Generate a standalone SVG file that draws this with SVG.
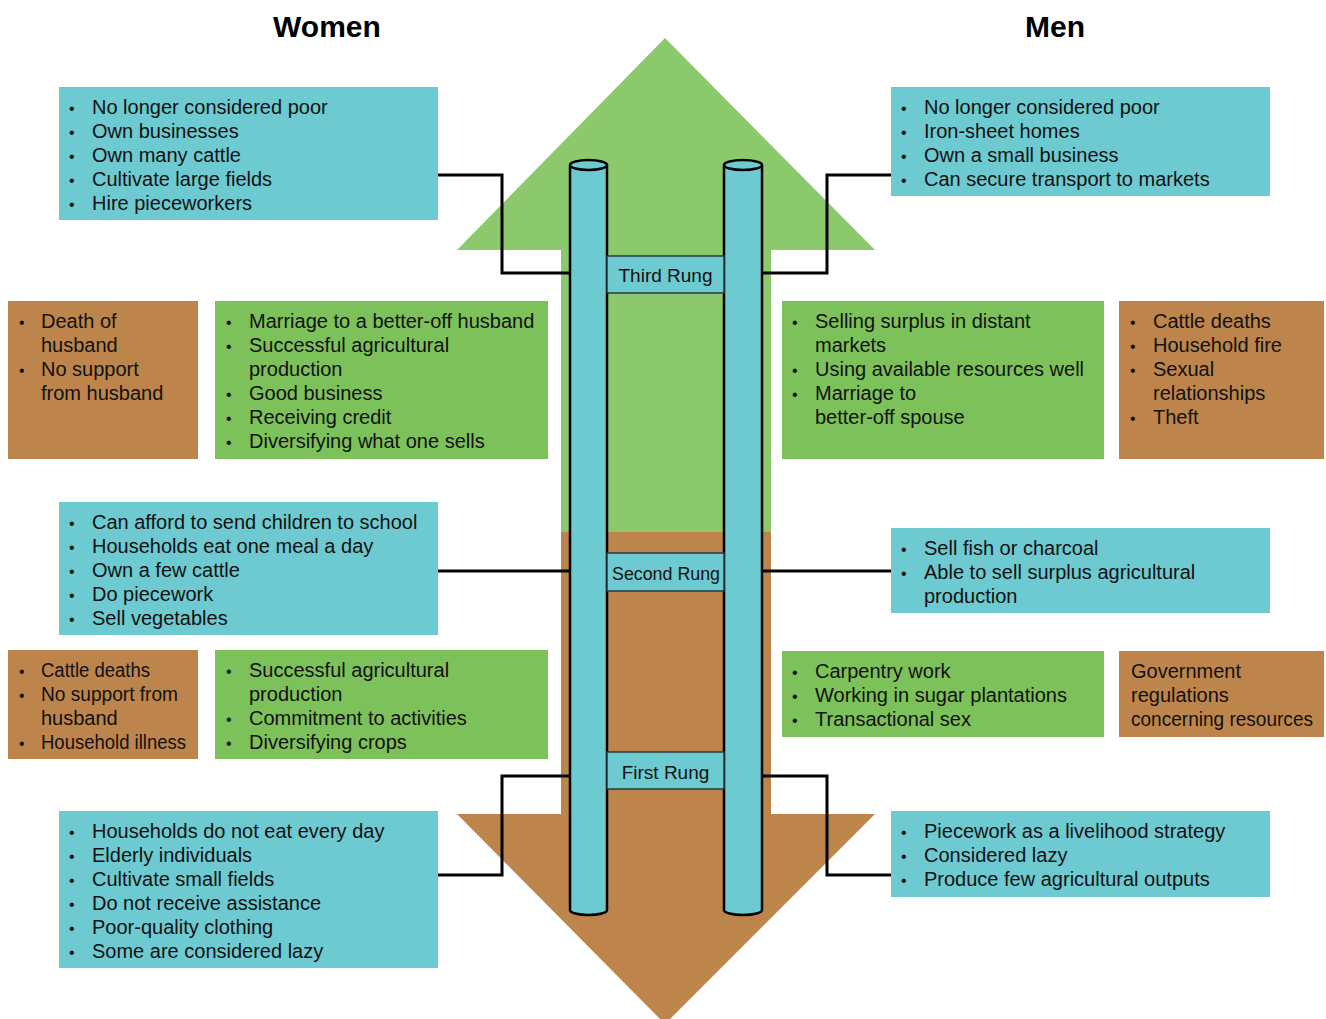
<svg xmlns="http://www.w3.org/2000/svg" width="1326" height="1019" viewBox="0 0 1326 1019">
<style>
.t{font-family:"Liberation Sans",Arial,sans-serif;font-size:20px;fill:#111}
.b{font-family:"Liberation Sans",Arial,sans-serif;font-size:16px;fill:#111}
.h{font-family:"Liberation Sans",Arial,sans-serif;font-size:30px;font-weight:bold;fill:#000}
.r{font-family:"Liberation Sans",Arial,sans-serif;font-size:19px;fill:#111}
.cy{fill:#6dcad1}
.gr{fill:#7dc15b}
.br{fill:#bd854c}
.conn{fill:none;stroke:#000;stroke-width:3}
.pole{fill:#6dcad1;stroke:#000;stroke-width:2.5}
.rung{fill:#6dcad1;stroke:#233a3e;stroke-width:1.5}
</style>
<rect width="1326" height="1019" fill="#fff"/>
<g id="arrows">
<polygon points="665,38 875,250 771,250 771,532 561,532 561,250 457,250" fill="#8bc96c"/>
<polygon points="561,532 771,532 771,814 875,814 665,1024 457,814 561,814" fill="#bd854c"/>
</g>
<g id="titles">
<text class="h" x="327" y="37" text-anchor="middle">Women</text>
<text class="h" x="1055" y="37" text-anchor="middle">Men</text>
</g>
<g id="connectors">
<path class="conn" d="M438,175 H502 V273 H570"/>
<path class="conn" d="M762,273 H827 V175 H891"/>
<path class="conn" d="M438,571 H570"/>
<path class="conn" d="M762,571 H891"/>
<path class="conn" d="M570,776 H502 V875 H438"/>
<path class="conn" d="M762,776 H827 V875 H891"/>
</g>
<g id="ladder">
<path class="pole" d="M570,165 V910 A18.5,5 0 0 0 607,910 V165"/>
<ellipse class="pole" cx="588.5" cy="165" rx="18.5" ry="5"/>
<path class="pole" d="M724,165 V910 A19,5 0 0 0 762,910 V165"/>
<ellipse class="pole" cx="743" cy="165" rx="19" ry="5"/>
<g id="rung3"><rect class="rung" x="607" y="256" width="117" height="37"/><text class="r" x="665.5" y="282" text-anchor="middle">Third Rung</text></g>
<g id="rung2"><rect class="rung" x="607" y="553" width="117" height="38"/><text class="r" x="612" y="580" textLength="108" lengthAdjust="spacingAndGlyphs">Second Rung</text></g>
<g id="rung1"><rect class="rung" x="607" y="752" width="117" height="37"/><text class="r" x="665.5" y="779" text-anchor="middle">First Rung</text></g>
</g>
<g id="women-top">
<rect class="cy" x="59" y="87" width="379" height="133"/>
<text class="b" x="69" y="114">•</text><text class="b" x="69" y="138">•</text><text class="b" x="69" y="162">•</text><text class="b" x="69" y="186">•</text><text class="b" x="69" y="210">•</text>
<text class="t" x="92" y="114">No longer considered poor</text>
<text class="t" x="92" y="138">Own businesses</text>
<text class="t" x="92" y="162">Own many cattle</text>
<text class="t" x="92" y="186">Cultivate large fields</text>
<text class="t" x="92" y="210">Hire pieceworkers</text>
</g>
<g id="men-top">
<rect class="cy" x="891" y="87" width="379" height="109"/>
<text class="b" x="901" y="114">•</text><text class="b" x="901" y="138">•</text><text class="b" x="901" y="162">•</text><text class="b" x="901" y="186">•</text>
<text class="t" x="924" y="114">No longer considered poor</text>
<text class="t" x="924" y="138">Iron-sheet homes</text>
<text class="t" x="924" y="162">Own a small business</text>
<text class="t" x="924" y="186">Can secure transport to markets</text>
</g>
<g id="women-risk-3">
<rect class="br" x="8" y="301" width="190" height="158"/>
<text class="b" x="19" y="328">•</text><text class="b" x="19" y="376">•</text>
<text class="t" x="41" y="328">Death of</text>
<text class="t" x="41" y="352">husband</text>
<text class="t" x="41" y="376">No support</text>
<text class="t" x="41" y="400">from husband</text>
</g>
<g id="women-up-3">
<rect class="gr" x="215" y="301" width="333" height="158"/>
<text class="b" x="226" y="328">•</text><text class="b" x="226" y="352">•</text><text class="b" x="226" y="400">•</text><text class="b" x="226" y="424">•</text><text class="b" x="226" y="448">•</text>
<text class="t" x="249" y="328">Marriage to a better-off husband</text>
<text class="t" x="249" y="352">Successful agricultural</text>
<text class="t" x="249" y="376">production</text>
<text class="t" x="249" y="400">Good business</text>
<text class="t" x="249" y="424">Receiving credit</text>
<text class="t" x="249" y="448">Diversifying what one sells</text>
</g>
<g id="men-up-3">
<rect class="gr" x="782" y="301" width="322" height="158"/>
<text class="b" x="792" y="328">•</text><text class="b" x="792" y="376">•</text><text class="b" x="792" y="400">•</text>
<text class="t" x="815" y="328">Selling surplus in distant</text>
<text class="t" x="815" y="352">markets</text>
<text class="t" x="815" y="376">Using available resources well</text>
<text class="t" x="815" y="400">Marriage to</text>
<text class="t" x="815" y="424">better-off spouse</text>
</g>
<g id="men-risk-3">
<rect class="br" x="1119" y="301" width="205" height="158"/>
<text class="b" x="1130" y="328">•</text><text class="b" x="1130" y="352">•</text><text class="b" x="1130" y="376">•</text><text class="b" x="1130" y="424">•</text>
<text class="t" x="1153" y="328">Cattle deaths</text>
<text class="t" x="1153" y="352">Household fire</text>
<text class="t" x="1153" y="376">Sexual</text>
<text class="t" x="1153" y="400">relationships</text>
<text class="t" x="1153" y="424">Theft</text>
</g>
<g id="women-mid">
<rect class="cy" x="59" y="502" width="379" height="133"/>
<text class="b" x="69" y="529">•</text><text class="b" x="69" y="553">•</text><text class="b" x="69" y="577">•</text><text class="b" x="69" y="601">•</text><text class="b" x="69" y="625">•</text>
<text class="t" x="92" y="529">Can afford to send children to school</text>
<text class="t" x="92" y="553">Households eat one meal a day</text>
<text class="t" x="92" y="577">Own a few cattle</text>
<text class="t" x="92" y="601">Do piecework</text>
<text class="t" x="92" y="625">Sell vegetables</text>
</g>
<g id="men-mid">
<rect class="cy" x="891" y="528" width="379" height="85"/>
<text class="b" x="901" y="555">•</text><text class="b" x="901" y="579">•</text>
<text class="t" x="924" y="555">Sell fish or charcoal</text>
<text class="t" x="924" y="579">Able to sell surplus agricultural</text>
<text class="t" x="924" y="603">production</text>
</g>
<g id="women-risk-2">
<rect class="br" x="8" y="650" width="190" height="109"/>
<text class="b" x="19" y="677">•</text><text class="b" x="19" y="701">•</text><text class="b" x="19" y="749">•</text>
<text class="t" x="41" y="677" textLength="109" lengthAdjust="spacingAndGlyphs">Cattle deaths</text>
<text class="t" x="41" y="701" textLength="137" lengthAdjust="spacingAndGlyphs">No support from</text>
<text class="t" x="41" y="725">husband</text>
<text class="t" x="41" y="749" textLength="145" lengthAdjust="spacingAndGlyphs">Household illness</text>
</g>
<g id="women-up-2">
<rect class="gr" x="215" y="650" width="333" height="109"/>
<text class="b" x="226" y="677">•</text><text class="b" x="226" y="725">•</text><text class="b" x="226" y="749">•</text>
<text class="t" x="249" y="677">Successful agricultural</text>
<text class="t" x="249" y="701">production</text>
<text class="t" x="249" y="725">Commitment to activities</text>
<text class="t" x="249" y="749">Diversifying crops</text>
</g>
<g id="men-up-2">
<rect class="gr" x="782" y="651" width="322" height="86"/>
<text class="b" x="792" y="678">•</text><text class="b" x="792" y="702">•</text><text class="b" x="792" y="726">•</text>
<text class="t" x="815" y="678">Carpentry work</text>
<text class="t" x="815" y="702">Working in sugar plantations</text>
<text class="t" x="815" y="726">Transactional sex</text>
</g>
<g id="men-risk-2">
<rect class="br" x="1119" y="651" width="205" height="86"/>
<text class="t" x="1131" y="678">Government</text>
<text class="t" x="1131" y="702">regulations</text>
<text class="t" x="1131" y="726" textLength="182" lengthAdjust="spacingAndGlyphs">concerning resources</text>
</g>
<g id="women-bottom">
<rect class="cy" x="59" y="811" width="379" height="157"/>
<text class="b" x="69" y="838">•</text><text class="b" x="69" y="862">•</text><text class="b" x="69" y="886">•</text><text class="b" x="69" y="910">•</text><text class="b" x="69" y="934">•</text><text class="b" x="69" y="958">•</text>
<text class="t" x="92" y="838">Households do not eat every day</text>
<text class="t" x="92" y="862">Elderly individuals</text>
<text class="t" x="92" y="886">Cultivate small fields</text>
<text class="t" x="92" y="910">Do not receive assistance</text>
<text class="t" x="92" y="934">Poor-quality clothing</text>
<text class="t" x="92" y="958">Some are considered lazy</text>
</g>
<g id="men-bottom">
<rect class="cy" x="891" y="811" width="379" height="86"/>
<text class="b" x="901" y="838">•</text><text class="b" x="901" y="862">•</text><text class="b" x="901" y="886">•</text>
<text class="t" x="924" y="838">Piecework as a livelihood strategy</text>
<text class="t" x="924" y="862">Considered lazy</text>
<text class="t" x="924" y="886">Produce few agricultural outputs</text>
</g>
</svg>
